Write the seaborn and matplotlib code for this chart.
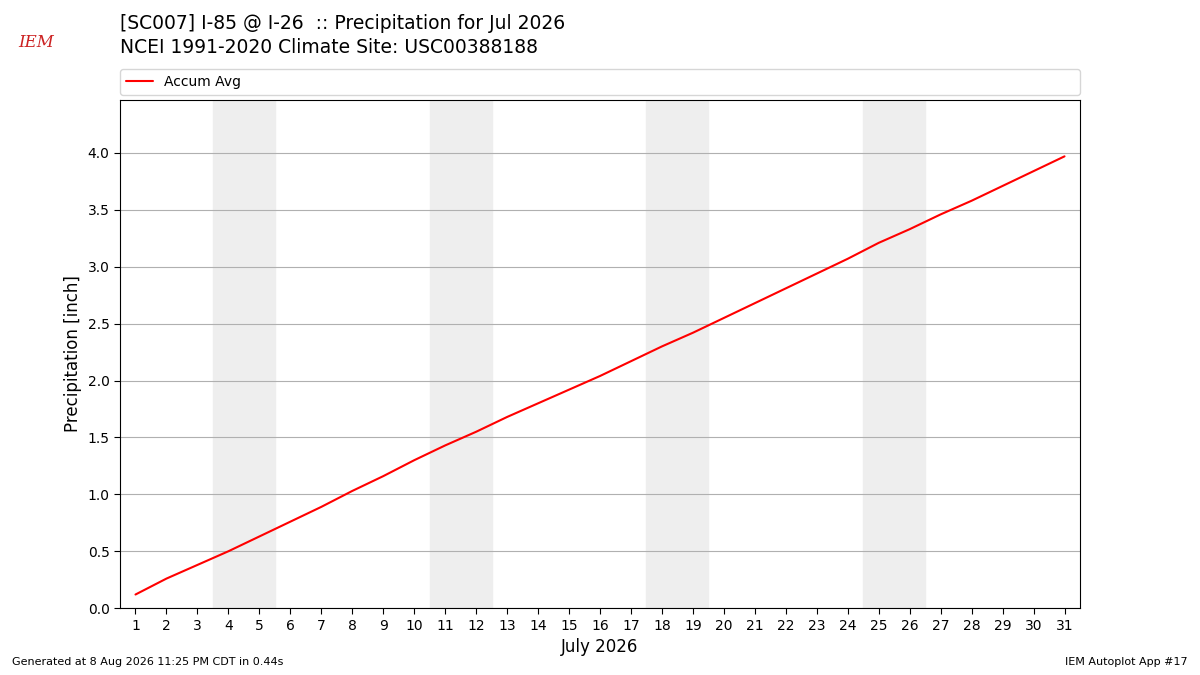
import matplotlib
matplotlib.use("Agg")
import matplotlib.pyplot as plt
import seaborn as sns
import pandas as pd

days = list(range(1, 32))
accum = [0.12, 0.26, 0.38, 0.50, 0.63, 0.76, 0.89, 1.03, 1.16, 1.30, 1.43, 1.55, 1.68, 1.80,
         1.92, 2.04, 2.17, 2.30, 2.42, 2.55, 2.68, 2.81, 2.94, 3.07, 3.21, 3.33, 3.46, 3.58,
         3.71, 3.84, 3.97]
weekends = [(4, 5), (11, 12), (18, 19), (25, 26)]

sns.set_style("white")
plt.rcParams['font.family'] = ['DejaVu Sans']
plt.rcParams.update({'text.color': 'black', 'axes.labelcolor': 'black',
                     'xtick.color': 'black', 'ytick.color': 'black'})
fig = plt.figure(figsize=(12, 6.75), dpi=100)
ax = fig.add_axes([0.1, 0.099, 0.8, 0.753])
for a, b in weekends:
    ax.axvspan(a - 0.5, b + 0.5, color='#eeeeee', zorder=0)
df = pd.DataFrame({'day': days, 'accum': accum})
sns.lineplot(data=df, x='day', y='accum', color='red', ax=ax, label='Accum Avg', legend=False)
ax.set_xlim(0.5, 31.5)
ax.set_ylim(0, 4.466)
ax.set_xticks(days)
ax.set_yticks([0, 0.5, 1, 1.5, 2, 2.5, 3, 3.5, 4])
ax.set_yticklabels([f"{v:.1f}" for v in [0, 0.5, 1, 1.5, 2, 2.5, 3, 3.5, 4]])
ax.tick_params(labelsize=10, left=True, bottom=True, length=4)
ax.yaxis.grid(True, color='#b0b0b0', linewidth=0.8)
ax.set_axisbelow(True)
for s in ax.spines.values():
    s.set_color('black'); s.set_linewidth(0.8)
ax.set_xlabel('July 2026', fontsize=12)
ax.set_ylabel('Precipitation [inch]', fontsize=12)
h, l = ax.get_legend_handles_labels()
fig.legend(h, l, loc='lower left', bbox_to_anchor=(0.1, 0.86, 0.8, 0.037), mode='expand',
           fontsize=10, frameon=True, borderaxespad=0)
fig.text(0.1, 0.965, "[SC007] I-85 @ I-26  :: Precipitation for Jul 2026", fontsize=13.5, va='center')
fig.text(0.1, 0.93, "NCEI 1991-2020 Climate Site: USC00388188", fontsize=13.5, va='center')
fig.text(0.01, 0.015, "Generated at 8 Aug 2026 11:25 PM CDT in 0.44s", fontsize=8)
fig.text(0.99, 0.015, "IEM Autoplot App #17", fontsize=8, ha='right')
fig.text(0.015, 0.93, "IEM", fontsize=12, color='#cc2222', style='italic', family='serif')
fig.savefig('out.png', dpi=100)
